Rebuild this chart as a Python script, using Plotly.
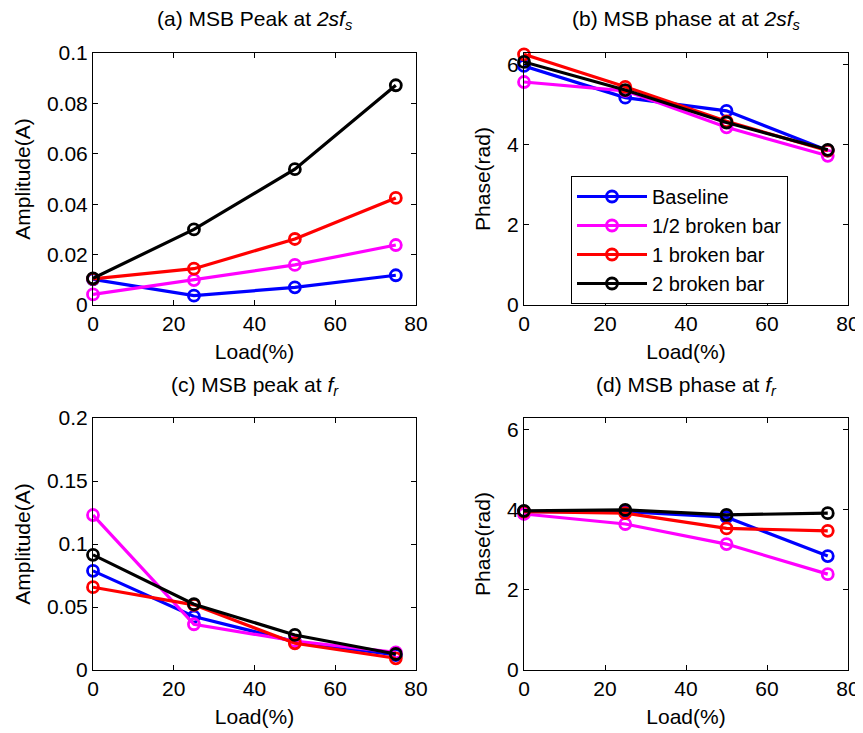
import plotly.graph_objects as go

load = [0, 25, 50, 75]
series_names = ["Baseline", "1/2 broken bar", "1 broken bar", "2 broken bar"]
colors = ["#0000FF", "#FF00FF", "#FF0000", "#000000"]

# (a) MSB peak at 2sfs
amp_2sfs = [
    [0.0102, 0.0037, 0.0070, 0.0118],
    [0.0042, 0.0099, 0.0159, 0.0238],
    [0.0104, 0.0144, 0.0262, 0.0425],
    [0.0106, 0.0300, 0.0539, 0.0872],
]
# (b) MSB phase at 2sfs
phase_2sfs = [
    [5.96, 5.17, 4.84, 3.85],
    [5.56, 5.34, 4.43, 3.72],
    [6.25, 5.44, 4.58, 3.85],
    [6.06, 5.36, 4.55, 3.87],
]
# (c) MSB peak at fr
amp_fr = [
    [0.0787, 0.0424, 0.0225, 0.0119],
    [0.1230, 0.0363, 0.0230, 0.0140],
    [0.0657, 0.0517, 0.0212, 0.0093],
    [0.0914, 0.0522, 0.0278, 0.0127],
]
# (d) MSB phase at fr
phase_fr = [
    [3.95, 3.95, 3.81, 2.84],
    [3.89, 3.64, 3.14, 2.39],
    [3.95, 3.91, 3.53, 3.47],
    [3.97, 3.99, 3.87, 3.91],
]

titles = [
    "(a) MSB Peak at <i>2sf</i><sub><i>s</i></sub>",
    "(b) MSB phase at at <i>2sf</i><sub><i>s</i></sub>",
    "(c) MSB peak at <i>f</i><sub><i>r</i></sub>",
    "(d) MSB phase at <i>f</i><sub><i>r</i></sub>",
]
x_title = "Load(%)"
y_titles = ["Amplitude(A)", "Phase(rad)", "Amplitude(A)", "Phase(rad)"]

x_ticks = [0, 20, 40, 60, 80]
y_ticks_a = [0, 0.02, 0.04, 0.06, 0.08, 0.1]
y_ticktext_a = ["0", "0.02", "0.04", "0.06", "0.08", "0.1"]
y_ticks_c = [0, 0.05, 0.1, 0.15, 0.2]
y_ticktext_c = ["0", "0.05", "0.1", "0.15", "0.2"]
y_ticks_phase = [0, 2, 4, 6]

# page body has an 8px margin, so the figure is drawn offset by 8px
OFF = 8
W, H = 863 - OFF, 733 - OFF
FONT = "Liberation Sans, Arial, sans-serif"

# pixel boxes for panels in screenshot coordinates: (left, right, top, bottom)
boxes = [(93, 416, 53, 305), (524, 848, 53, 305), (93, 416, 418, 670), (524, 848, 418, 670)]

data_sets = [amp_2sfs, phase_2sfs, amp_fr, phase_fr]
fig = go.Figure()
for p, ds in enumerate(data_sets):
    xa = "x" if p == 0 else f"x{p+1}"
    ya = "y" if p == 0 else f"y{p+1}"
    for i, vals in enumerate(ds):
        fig.add_trace(go.Scatter(
            x=load, y=vals, mode="lines+markers", name=series_names[i],
            line=dict(color=colors[i], width=3.2),
            marker=dict(symbol="circle-open", size=11, color=colors[i], line=dict(width=2.8, color=colors[i])),
            showlegend=(p == 1), xaxis=xa, yaxis=ya, cliponaxis=False,
        ))

yranges = [[0, 0.1], [0, 6.2832], [0, 0.2], [0, 6.2832]]
ytv = [(y_ticks_a, y_ticktext_a), (y_ticks_phase, [str(v) for v in y_ticks_phase]),
       (y_ticks_c, y_ticktext_c), (y_ticks_phase, [str(v) for v in y_ticks_phase])]

common = dict(showline=True, linecolor="black", linewidth=1, mirror="ticks", ticks="inside",
              ticklen=5, tickcolor="black", showgrid=False, zeroline=False, automargin=False,
              tickfont=dict(family=FONT, size=21, color="black"))

layout = {}
annotations = []
for p, (l, r, t, b) in enumerate(boxes):
    l, r, t, b = l - OFF, r - OFF, t - OFF, b - OFF
    sfx = "" if p == 0 else str(p + 1)
    layout[f"xaxis{sfx}"] = dict(
        domain=[l / W, r / W], anchor=f"y{sfx}", range=[0, 80],
        tickvals=x_ticks, ticktext=[str(v) for v in x_ticks],
        title=dict(text=x_title, font=dict(family=FONT, size=21, color="black"), standoff=10),
        **common)
    layout[f"yaxis{sfx}"] = dict(
        domain=[1 - b / H, 1 - t / H], anchor=f"x{sfx}", range=yranges[p],
        tickvals=ytv[p][0], ticktext=ytv[p][1],
        title=dict(text=y_titles[p], font=dict(family=FONT, size=21, color="black"), standoff=10),
        **common)
    cy = (20 if p < 2 else 386) - OFF
    annotations.append(dict(
        text=titles[p], x=(l + r) / 2 / W, y=1 - cy / H, xref="paper", yref="paper",
        xanchor="center", yanchor="middle", showarrow=False,
        font=dict(family=FONT, size=21, color="black")))

fig.update_layout(
    width=W, height=H, margin=dict(l=0, r=0, t=0, b=0),
    paper_bgcolor="white", plot_bgcolor="white",
    annotations=annotations,
    legend=dict(x=(571 - OFF) / W, y=1 - (176 - OFF) / H, xanchor="left", yanchor="top",
                bgcolor="white", bordercolor="black", borderwidth=1,
                font=dict(family=FONT, size=20, color="black"),
                tracegroupgap=0, itemwidth=70),
    **layout,
)

fig.write_html("out.html")
